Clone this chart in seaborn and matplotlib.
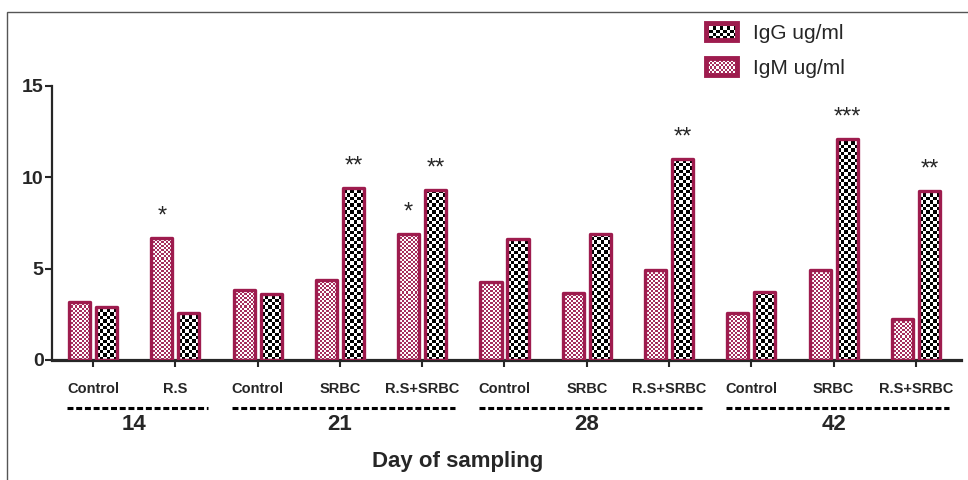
import numpy as np
import pandas as pd
import matplotlib.pyplot as plt
import seaborn as sns
from matplotlib.colors import ListedColormap
from matplotlib.patches import Rectangle
from matplotlib.legend_handler import HandlerBase

# data
days = [14, 14, 21, 21, 21, 28, 28, 28, 42, 42, 42]
treatments = ["Control", "R.S", "Control", "SRBC", "R.S+SRBC",
              "Control", "SRBC", "R.S+SRBC", "Control", "SRBC", "R.S+SRBC"]
igm = [3.2, 6.7, 3.85, 4.4, 6.9, 4.25, 3.65, 4.9, 2.6, 4.9, 2.25]
igg = [2.9, 2.6, 3.6, 9.4, 9.3, 6.65, 6.9, 11.0, 3.75, 12.1, 9.25]
igm_stars = ["", "*", "", "", "*", "", "", "", "", "", ""]
igg_stars = ["", "", "", "**", "**", "", "", "**", "", "***", "**"]
group_days = [14, 21, 28, 42]
series = ["IgM ug/ml", "IgG ug/ml"]

crimson = "#9E1C4E"
igm_cols = ["white", "#A52F5E"]
igg_cols = ["white", "black"]

sns.set_style("ticks")
plt.rcParams['font.family'] = ['Liberation Sans', 'DejaVu Sans']

keys = [f"{d}-{t}" for d, t in zip(days, treatments)]
df = pd.DataFrame({
    "key": keys * 2,
    "value": igm + igg,
    "series": [series[0]] * len(keys) + [series[1]] * len(keys),
})

fig = plt.figure(figsize=(9.68, 4.8), dpi=100)
ax = fig.add_axes([52 / 968, 120 / 480, 909 / 968, 274 / 480])

sns.barplot(data=df, x="key", y="value", hue="series", order=keys,
            hue_order=series, palette=["white", "white"], width=0.656,
            gap=0.22, edgecolor=crimson, linewidth=2.4, errorbar=None,
            legend=False, ax=ax)

xlim = (-0.498, 10.547)
ax.set_xlim(*xlim)
ax.set_ylim(0, 15)


def fill_checker(bar, colors, cell_px):
    x0, y0 = bar.get_x(), bar.get_y()
    w, h = bar.get_width(), bar.get_height()
    (px0, py0), (px1, py1) = ax.transData.transform([(x0, y0), (x0 + w, y0 + h)])
    nx = int(np.ceil((px1 - px0) / cell_px)) + 1
    ny = int(np.ceil((py1 - py0) / cell_px)) + 1
    dxc = w / (px1 - px0) * cell_px
    dyc = h / (py1 - py0) * cell_px
    grid = np.add.outer(np.arange(ny), np.arange(nx)) % 2
    im = ax.imshow(grid, cmap=ListedColormap(colors), vmin=0, vmax=1,
                   extent=(x0, x0 + nx * dxc, y0, y0 + ny * dyc),
                   origin='lower', aspect='auto', interpolation='nearest',
                   zorder=2)
    im.set_clip_path(bar)


for cont, cols, cell in zip(ax.containers, [igm_cols, igg_cols], [2, 3.4]):
    for bar in cont:
        bar.set_facecolor('none')
        bar.set_zorder(3)
        bar.set_joinstyle('round')
        fill_checker(bar, cols, cell)

ax.set_xlim(*xlim)
ax.set_ylim(0, 15)

# significance stars
for cont, stars in zip(ax.containers, [igm_stars, igg_stars]):
    for bar, s in zip(cont, stars):
        if s:
            ax.annotate(s, (bar.get_x() + bar.get_width() / 2, bar.get_height()),
                        xytext=(0, 11), textcoords='offset points',
                        ha='center', va='baseline', fontsize=17,
                        annotation_clip=False)

# axes styling
sns.despine(ax=ax)
ax.spines['left'].set_linewidth(1.6)
ax.spines['bottom'].set_linewidth(2.3)
ax.set_yticks([0, 5, 10, 15])
ax.set_xticks(range(len(keys)))
ax.set_xticklabels(treatments, fontsize=10.5, fontweight='bold')
for lab in ax.get_yticklabels():
    lab.set_fontweight('bold')
    lab.set_fontsize(14)
ax.tick_params(axis='y', length=5, width=1.5, pad=1)
ax.tick_params(axis='x', length=5, width=1.5, pad=11)
ax.set_xlabel("")
ax.set_ylabel("")

# day groups: dashed underline + day number
xt = ax.get_xaxis_transform()
for d in group_days:
    pos = [i for i, dd in enumerate(days) if dd == d]
    ax.plot([pos[0] - 0.31, pos[-1] + 0.4], [-0.175, -0.175], transform=xt,
            clip_on=False, color='black', lw=2.2, linestyle=(0, (1.95, 0.9)))
    ax.text(np.mean(pos), -0.235, str(d), transform=xt, ha='center',
            va='center', fontsize=16, fontweight='bold')

fig.text(458 / 968, 1 - 461 / 480, "Day of sampling", ha='center',
         va='center', fontsize=16, fontweight='bold')


class CheckerHandler(HandlerBase):
    def __init__(self, colors, cell):
        super().__init__()
        self.colors = colors
        self.cell = cell

    def create_artists(self, legend, orig_handle, xdescent, ydescent,
                       width, height, fontsize, trans):
        arts = []
        x0, y0 = -xdescent, -ydescent
        nx = max(1, int(round(width / self.cell)))
        ny = max(1, int(round(height / self.cell)))
        cw, ch = width / nx, height / ny
        for i in range(ny):
            for j in range(nx):
                arts.append(Rectangle((x0 + j * cw, y0 + i * ch), cw, ch,
                                      facecolor=self.colors[(i + j) % 2],
                                      edgecolor='none', transform=trans))
        arts.append(Rectangle((x0, y0), width, height, facecolor='none',
                              edgecolor=crimson, lw=3.5, transform=trans))
        return arts


h_igg = Rectangle((0, 0), 1, 1)
h_igm = Rectangle((0, 0), 1, 1)
fig.legend(handles=[h_igg, h_igm], labels=[series[1], series[0]],
           handler_map={h_igg: CheckerHandler(igg_cols, 2.4),
                        h_igm: CheckerHandler(igm_cols, 1.5)},
           loc='upper left', bbox_to_anchor=(706 / 968, 1 - 23 / 480),
           frameon=False, fontsize=15, handlelength=1.5, handleheight=0.85,
           labelspacing=0.75, handletextpad=0.75, borderpad=0, borderaxespad=0)

# thin frame around the figure
fig.add_artist(Rectangle((7 / 968, -0.1), 1.2, 1 - 12 / 480 + 0.1,
                         transform=fig.transFigure, fill=False,
                         edgecolor='#555555', lw=1))

fig.savefig('out.png', dpi=100)
